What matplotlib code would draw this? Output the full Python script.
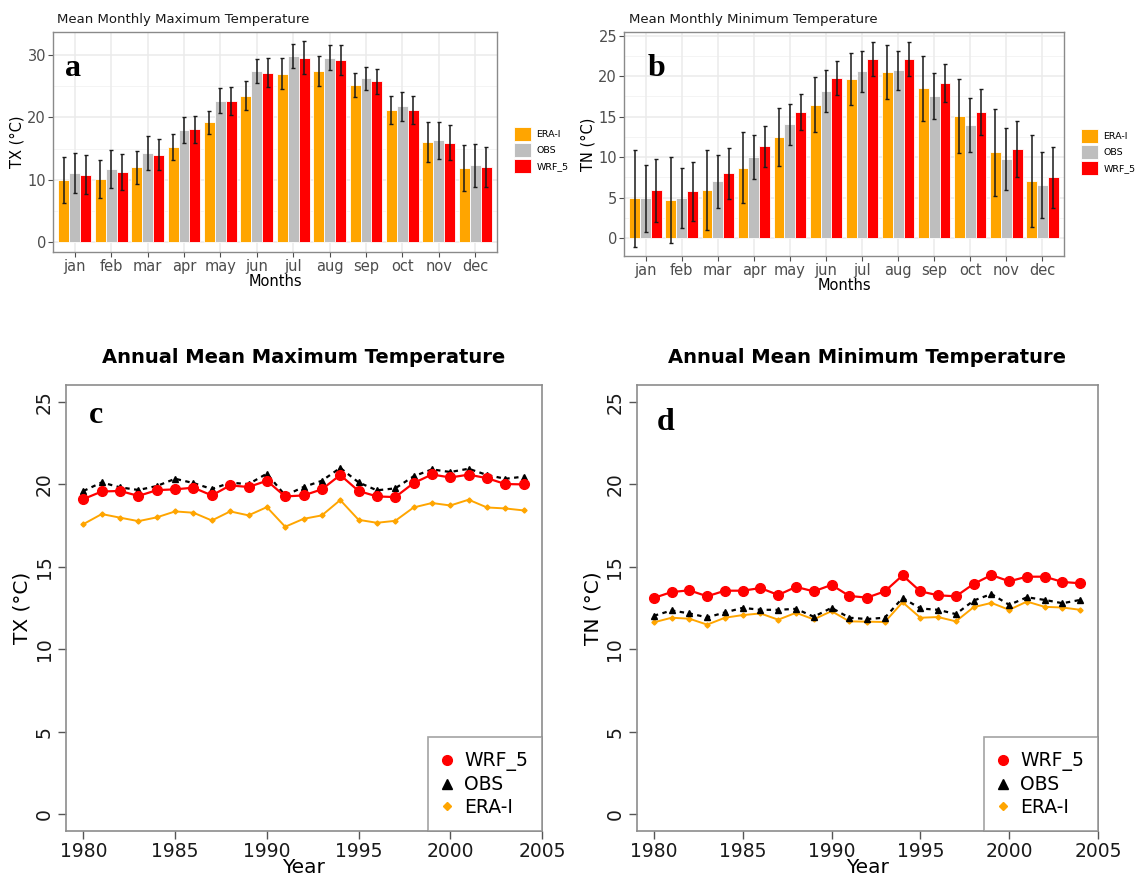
import numpy as np
import matplotlib
matplotlib.use("Agg")
import matplotlib.pyplot as plt
from matplotlib.patches import Patch
from matplotlib.lines import Line2D

plt.rcParams['font.family'] = ['DejaVu Sans']

# ---------------- monthly climatology (bars) ----------------
months = ['jan', 'feb', 'mar', 'apr', 'may', 'jun', 'jul', 'aug', 'sep', 'oct', 'nov', 'dec']
series_names = ['ERA-I', 'OBS', 'WRF_5']

tx_era = [9.98, 10.1, 12.0, 15.2, 19.2, 23.5, 27.0, 27.4, 25.2, 21.2, 16.0, 11.85]
tx_obs = [11.1, 11.7, 14.25, 18.0, 22.7, 27.4, 29.85, 29.6, 26.3, 21.8, 16.3, 12.3]
tx_wrf = [10.8, 11.3, 14.0, 18.1, 22.7, 27.2, 29.6, 29.2, 25.8, 21.2, 15.9, 12.0]
tx_era_sd = [3.7, 3.0, 2.65, 2.1, 1.9, 2.35, 2.5, 2.4, 2.0, 2.2, 3.2, 3.7]
tx_obs_sd = [3.2, 3.0, 2.7, 2.1, 2.0, 1.95, 2.0, 1.95, 1.85, 2.35, 3.0, 3.5]
tx_wrf_sd = [3.1, 2.9, 2.5, 2.2, 2.25, 2.4, 2.6, 2.4, 2.0, 2.2, 2.8, 3.25]

tn_era = [4.9, 4.75, 5.95, 8.7, 12.45, 16.5, 19.7, 20.5, 18.5, 15.1, 10.6, 7.05]
tn_obs = [4.9, 5.0, 7.0, 10.0, 14.05, 18.15, 20.6, 20.7, 17.55, 13.95, 9.8, 6.55]
tn_wrf = [5.9, 5.8, 8.0, 11.35, 15.55, 19.75, 22.1, 22.1, 19.2, 15.55, 11.0, 7.5]
tn_era_sd = [5.95, 5.3, 4.95, 4.35, 3.6, 3.4, 3.2, 3.35, 4.0, 4.6, 5.4, 5.65]
tn_obs_sd = [4.15, 3.7, 3.25, 2.7, 2.5, 2.55, 2.5, 2.45, 2.85, 3.35, 3.8, 4.1]
tn_wrf_sd = [3.85, 3.65, 3.15, 2.55, 2.2, 2.1, 2.1, 2.1, 2.35, 2.85, 3.45, 3.75]

# ---------------- annual means (lines) ----------------
years = list(range(1980, 2005))

ann_tx_wrf = [19.11, 19.57, 19.6, 19.3, 19.65, 19.7, 19.8, 19.33, 19.94, 19.84, 20.22, 19.27, 19.33,
              19.7, 20.57, 19.6, 19.27, 19.23, 20.08, 20.6, 20.42, 20.59, 20.38, 20.02, 20.0]
ann_tx_obs = [19.6, 20.12, 19.82, 19.66, 19.9, 20.34, 20.08, 19.72, 20.1, 20.02, 20.65, 19.33, 19.84,
              20.22, 21.0, 20.12, 19.64, 19.76, 20.49, 20.91, 20.75, 20.95, 20.57, 20.34, 20.47]
ann_tx_era = [17.59, 18.2, 17.98, 17.77, 18.0, 18.36, 18.28, 17.81, 18.36, 18.12, 18.62, 17.43, 17.91,
              18.12, 19.05, 17.85, 17.67, 17.79, 18.6, 18.87, 18.72, 19.07, 18.6, 18.54, 18.42]

ann_tn_wrf = [13.11, 13.47, 13.57, 13.21, 13.55, 13.55, 13.71, 13.29, 13.78, 13.51, 13.9, 13.23, 13.13,
              13.51, 14.48, 13.51, 13.27, 13.21, 13.96, 14.5, 14.12, 14.4, 14.4, 14.08, 14.0]
ann_tn_obs = [12.03, 12.35, 12.17, 11.93, 12.23, 12.51, 12.39, 12.39, 12.45, 11.97, 12.51, 11.91, 11.83,
              11.91, 13.11, 12.47, 12.39, 12.13, 12.95, 13.35, 12.69, 13.15, 12.99, 12.79, 12.99]
ann_tn_era = [11.63, 11.91, 11.85, 11.49, 11.91, 12.07, 12.17, 11.79, 12.21, 11.81, 12.31, 11.69, 11.67,
              11.65, 12.85, 11.91, 11.95, 11.69, 12.55, 12.81, 12.39, 12.89, 12.57, 12.53, 12.39]

C_ERA = '#FFA500'
C_OBS = '#BEBEBE'
C_WRF = '#FF0000'

W, H = 1147, 876
fig = plt.figure(figsize=(W / 100, H / 100), dpi=100)


def px_axes(left, top, right, bottom):
    return fig.add_axes([left / W, 1 - bottom / H, (right - left) / W, (bottom - top) / H])


def monthly_panel(ax, vals, sds, ylim, yticks, minor, ylabel):
    x = np.arange(len(months))
    colors = [C_ERA, C_OBS, C_WRF]
    bw = 0.3
    ax.set_facecolor('white')
    for yv in minor:
        ax.axhline(yv, color='#F2F2F2', lw=0.6, zorder=0)
    for yv in yticks:
        ax.axhline(yv, color='#EBEBEB', lw=1.1, zorder=0)
    for xv in x:
        ax.axvline(xv, color='#EBEBEB', lw=1.1, zorder=0)
    for i, (v, s, c) in enumerate(zip(vals, sds, colors)):
        xi = x + (i - 1) * bw
        ax.bar(xi, v, width=bw, color=c, edgecolor='white', linewidth=0.6, zorder=2)
        ax.errorbar(xi, v, yerr=s, fmt='none', ecolor='#1a1a1a', elinewidth=1.1,
                    capsize=1.6, capthick=1.0, zorder=3)
    ax.set_xlim(-0.6, len(months) - 0.4)
    ax.set_ylim(*ylim)
    ax.set_yticks(yticks)
    ax.set_xticks(x)
    ax.set_xticklabels(months)
    for sp in ax.spines.values():
        sp.set_color('#8a8a8a')
        sp.set_linewidth(1.0)
    ax.tick_params(colors='#4D4D4D', labelcolor='#4D4D4D', labelsize=10.5, length=3.5, width=0.8, pad=1.5)
    ax.set_xlabel('Months', fontsize=10.5, labelpad=0)
    ax.set_ylabel(ylabel, fontsize=10.5, labelpad=2)


def bar_legend(x_px, yc_px):
    handles = [Patch(facecolor=c, edgecolor='white', linewidth=0.6) for c in (C_ERA, C_OBS, C_WRF)]
    fig.legend(handles, series_names, loc='center left',
               bbox_to_anchor=(x_px / W, 1 - yc_px / H), frameon=False, fontsize=6.8,
               handlelength=1.75, handleheight=2.0, labelspacing=0.15, handletextpad=0.6,
               borderpad=0, borderaxespad=0)


# panel a
ax_a = px_axes(53, 32, 497, 252)
monthly_panel(ax_a, [tx_era, tx_obs, tx_wrf], [tx_era_sd, tx_obs_sd, tx_wrf_sd],
              (-1.6, 33.7), [0, 10, 20, 30], [5, 15, 25], 'TX (°C)')
fig.text(57 / W, 1 - 19 / H, 'Mean Monthly Maximum Temperature', fontsize=9.5, color='#1a1a1a',
         ha='left', va='center')
bar_legend(514, 150)

# panel b
ax_b = px_axes(624, 32, 1064, 256)
monthly_panel(ax_b, [tn_era, tn_obs, tn_wrf], [tn_era_sd, tn_obs_sd, tn_wrf_sd],
              (-2.2, 25.45), [0, 5, 10, 15, 20, 25], [2.5, 7.5, 12.5, 17.5, 22.5], 'TN (°C)')
fig.text(629 / W, 1 - 19 / H, 'Mean Monthly Minimum Temperature', fontsize=9.5, color='#1a1a1a',
         ha='left', va='center')
bar_legend(1081, 152)


def annual_panel(ax, wrf, obs, era, title, ylabel):
    ax.plot(years, wrf, color=C_WRF, lw=1.6, marker='o', markersize=7, zorder=4)
    ax.plot(years, obs, color='black', lw=1.6, linestyle=(0, (2, 2)), marker='^', markersize=5, zorder=3)
    ax.plot(years, era, color=C_ERA, lw=1.4, marker='D', markersize=2.6, zorder=2)
    ax.set_xlim(1979.05, 2005.0)
    ax.set_ylim(-1.03, 26.03)
    ax.set_xticks([1980, 1985, 1990, 1995, 2000, 2005])
    ax.set_yticks([0, 5, 10, 15, 20, 25])
    for sp in ax.spines.values():
        sp.set_color('#8c8c8c')
        sp.set_linewidth(1.2)
    ax.tick_params(colors='#555555', labelcolor='#1a1a1a', labelsize=13.5, length=6, width=1.0)
    ax.tick_params(axis='y', pad=3)
    ax.tick_params(axis='x', pad=2)
    for lab in ax.get_yticklabels():
        lab.set_rotation(90)
        lab.set_va('center')
    ax.set_title(title, fontsize=14, fontweight='bold', pad=16)
    ax.set_xlabel('Year', fontsize=14.5, labelpad=-2)
    ax.set_ylabel(ylabel, fontsize=14.5, labelpad=2)
    handles = [Line2D([], [], color=C_WRF, marker='o', linestyle='none', markersize=7),
               Line2D([], [], color='black', marker='^', linestyle='none', markersize=7),
               Line2D([], [], color=C_ERA, marker='D', linestyle='none', markersize=4)]
    leg = ax.legend(handles, ['WRF_5', 'OBS', 'ERA-I'], loc='lower right', fontsize=13.5,
                    frameon=True, fancybox=False, borderaxespad=0, borderpad=0.75,
                    handlelength=0.6, handletextpad=0.6, labelspacing=0.2)
    leg.get_frame().set_edgecolor('#8c8c8c')
    leg.get_frame().set_linewidth(1.2)


# panel c
ax_c = px_axes(66, 385, 542, 831)
annual_panel(ax_c, ann_tx_wrf, ann_tx_obs, ann_tx_era, 'Annual Mean Maximum Temperature', 'TX (°C)')

# panel d
ax_d = px_axes(637, 385, 1098, 831)
annual_panel(ax_d, ann_tn_wrf, ann_tn_obs, ann_tn_era, 'Annual Mean Minimum Temperature', 'TN (°C)')

# panel letters
for letter, xp, yp in [('a', 73, 76), ('b', 656, 76), ('c', 96, 423), ('d', 666, 430)]:
    fig.text(xp / W, 1 - yp / H, letter, family='Liberation Serif', fontweight='bold',
             fontsize=23, ha='center', va='baseline', color='black')

fig.savefig('out.png', dpi=100)
